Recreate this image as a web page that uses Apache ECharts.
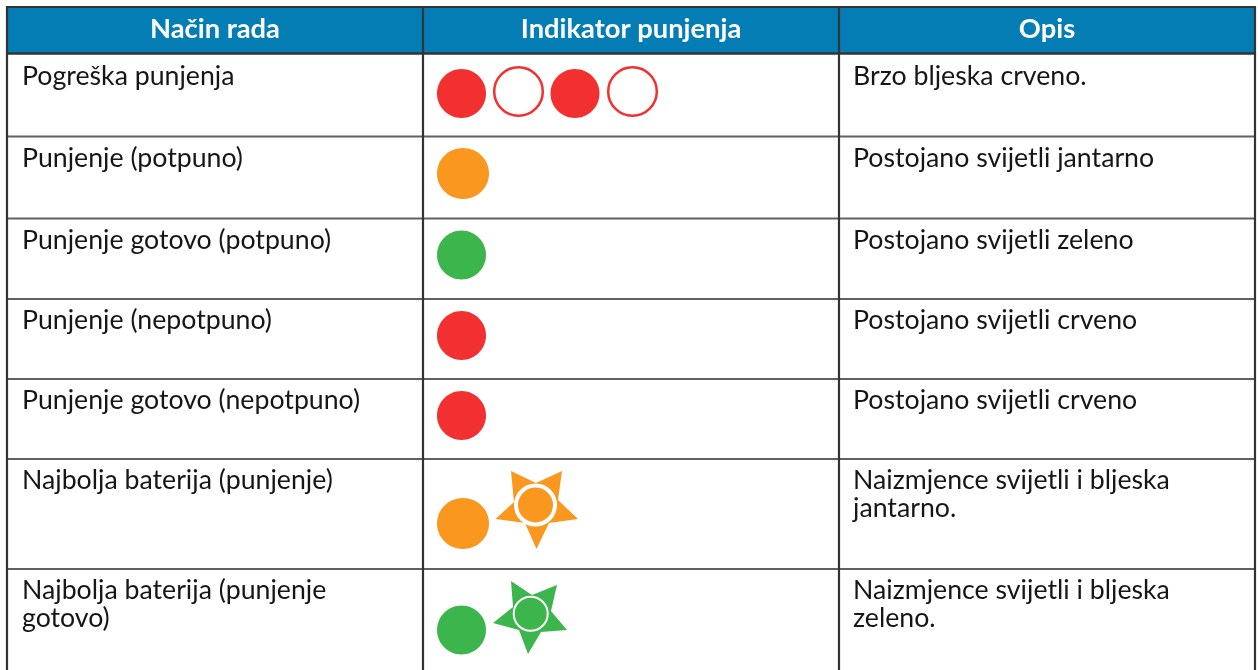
<!DOCTYPE html>
<html><head><meta charset="utf-8">
<style>html,body{margin:0;padding:0;background:#fff}#c{width:1258px;height:670px}</style>
<script src="https://cdn.jsdelivr.net/npm/echarts@6/dist/echarts.min.js"></script>
</head><body><div id="c"></div>
<script>
const headers = ['Način rada', 'Indikator punjenja', 'Opis'];
const modes = [['Pogreška punjenja'],['Punjenje (potpuno)'],['Punjenje gotovo (potpuno)'],['Punjenje (nepotpuno)'],['Punjenje gotovo (nepotpuno)'],['Najbolja baterija (punjenje)'],['Najbolja baterija (punjenje','gotovo)']];
const descriptions = [['Brzo bljeska crveno.'],['Postojano svijetli jantarno'],['Postojano svijetli zeleno'],['Postojano svijetli crveno'],['Postojano svijetli crveno'],['Naizmjence svijetli i bljeska','jantarno.'],['Naizmjence svijetli i bljeska','zeleno.']];
const indicators = [
 ['on','off','on','off'],['on'],['on'],['on'],['on'],['on','flash'],['on','flash']];
const rowColors = ['red','amber','green','red','red','amber','green'];
const palette = {red:'#f23030',amber:'#f9971f',green:'#3cb64c',head:'#047cb4',grid:'#606060',edge:'#333333',text:'#161616'};

const colEdges = [7,423,839,1255];
const rowEdges = [7,53.5,136.5,218.5,299,379,459,569,700];
const textX = [22,853];
const textCenter = [76,158,240,320,400,480,590];
const LH = 28;
const FONT = 'Lato';
const circles = [
 [[461.5,93.5,24.5,24.5],[518.5,91.5,24.3,24.3],[575,93.5,24.5,24.5],[632.5,91.5,24.3,24.3]],
 [[463,173.5,26,25.5]],[[461.5,255,24.5,24.5]],[[461.5,335.5,24.5,24.5]],[[461.5,415.5,24.5,24.5]],
 [[463,523.5,26,25.5]],[[461.5,630,24.5,24.5]]];
const stars = {5:{cx:535.5,cy:505,outer:[[511,471],[536,483],[562,471],[558,500],[578,519],[549,523],[536.5,549],[525,523],[495.5,519],[514,502]],r:19.5,lw:4},
 6:{cx:530.7,cy:613.7,outer:[[511,581],[532,595],[557,585],[551,611],[567,630],[541,632],[528,654],[519,630],[493,623],[513,607]],r:17,lw:2}};

const chart = echarts.init(document.getElementById('c'));
const rows = modes.map((_,i)=>i);
function lineSeg(api,a,b,c,w){const p=api.coord(a),q=api.coord(b);return{type:'line',shape:{x1:p[0],y1:p[1],x2:q[0],y2:q[1]},style:{stroke:c,lineWidth:w},silent:true};}
function ellipse(api,x,y,rx,ry,style){const p=api.coord([x,y]);return{type:'ellipse',shape:{cx:p[0],cy:p[1],rx,ry},style};}

function renderAll(params,api){
 const kids=[];
 const T=(x,y,t,o)=>{const p=api.coord([x,y]);kids.push({type:'text',x:p[0],y:p[1],style:Object.assign({text:t,font:'400 26.7px '+FONT,fill:palette.text,verticalAlign:'middle'},o||{})});};
 const r0=api.coord([colEdges[0],rowEdges[0]]),r1=api.coord([colEdges[3],rowEdges[1]]);
 kids.push({type:'rect',shape:{x:r0[0],y:r0[1],width:r1[0]-r0[0],height:r1[1]-r0[1]},style:{fill:palette.head}});
 rowEdges.slice(2,8).forEach(y=>kids.push(lineSeg(api,[colEdges[0],y],[colEdges[3],y],palette.grid,2)));
 kids.push(lineSeg(api,[colEdges[0],rowEdges[0]],[colEdges[3],rowEdges[0]],palette.edge,2));
 kids.push(lineSeg(api,[colEdges[0],rowEdges[1]],[colEdges[3],rowEdges[1]],palette.edge,2.5));
 colEdges.forEach(x=>kids.push(lineSeg(api,[x,rowEdges[0]-1],[x,rowEdges[8]],palette.edge,2.2)));
 headers.forEach((h,i)=>T((colEdges[i]+colEdges[i+1])/2,29,h,{font:'700 27.3px '+FONT,fill:'#fff',align:'center',textAlign:'center'}));
 rows.forEach(i=>{
  modes[i].forEach((t,k)=>T(textX[0],textCenter[i]+k*LH,t));
  descriptions[i].forEach((t,k)=>T(textX[1],textCenter[i]+k*LH,t));
  const col=palette[rowColors[i]];
  indicators[i].forEach((kind,k)=>{
   if(kind==='flash'){
    const s=stars[i];
    kids.push({type:'polygon',shape:{points:s.outer.map(q=>api.coord(q))},style:{fill:col}});
    kids.push(ellipse(api,s.cx,s.cy,s.r,s.r,{fill:col,stroke:'#fff',lineWidth:s.lw}));
   } else {
    const c=circles[i][k];
    kids.push(ellipse(api,c[0],c[1],c[2],c[3],kind==='off'?{fill:'#fff',stroke:col,lineWidth:2.5}:{fill:col}));
   }
  });
 });
 return {type:'group',children:kids};
}
chart.setOption({
 animation:false,
 grid:{left:0,right:0,top:0,bottom:0},
 xAxis:{type:'value',min:0,max:1258,show:false},
 yAxis:{type:'value',min:0,max:670,inverse:true,show:false},
 series:[{type:'custom',coordinateSystem:'cartesian2d',clip:true,data:[[0,0]],renderItem:renderAll,silent:true}]
});
</script></body></html>
